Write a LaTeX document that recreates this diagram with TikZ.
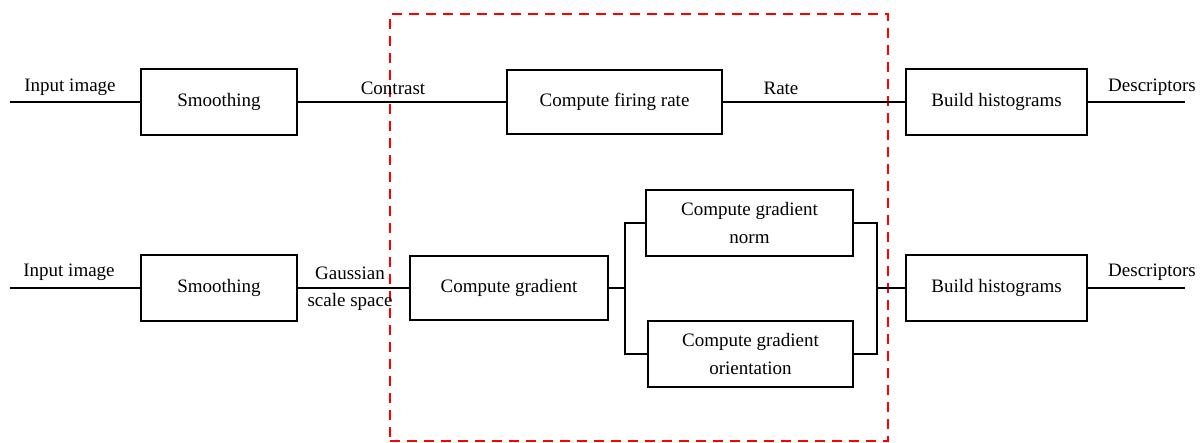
\documentclass[tikz,border=0pt]{standalone}
\usepackage{fontspec}
\setmainfont{Liberation Serif}
\begin{document}
\begin{tikzpicture}[x=1pt,y=-1pt,
  every node/.style={font=\fontsize{19}{28}\selectfont, inner sep=0pt},
  blk/.style={draw, line width=2.2pt, align=center},
  conn/.style={line width=2pt},
  lbl/.style={anchor=center},
  grpbox/.style={draw=red, line width=1.8pt, dash pattern=on 10pt off 7pt}]
\useasboundingbox (0,0) rectangle (1204,443);
% group box
\node[grpbox, minimum width=498pt, minimum height=427pt] (grp) at (639,227.5) {};
% top row
\coordinate (in1) at (10,102);
\coordinate (out1) at (1185,102);
\node[blk, minimum width=156pt, minimum height=66pt] (sm1) at (219,102) {Smoothing};
\node[blk, minimum width=215pt, minimum height=64pt] (cfr) at (614.5,102) {Compute firing rate};
\node[blk, minimum width=181pt, minimum height=66pt] (bh1) at (996.5,102) {Build histograms};
\draw[conn] (in1) -- (sm1.west);
\draw[conn] (sm1.east) -- (cfr.west);
\draw[conn] (cfr.east) -- (bh1.west);
\draw[conn] (bh1.east) -- (out1);
\node[lbl] (l1) at (70,87) {Input image};
\node[lbl] (l2) at (393,88) {Contrast};
\node[lbl] (l3) at (781,88) {Rate};
\node[lbl] (l4) at (1152,87) {Descriptors};
% bottom row
\coordinate (in2) at (10,288);
\coordinate (out2) at (1185,288);
\node[blk, minimum width=156pt, minimum height=66pt] (sm2) at (219,288) {Smoothing};
\node[blk, minimum width=198pt, minimum height=64pt] (cg) at (509,288) {Compute gradient};
\node[blk, minimum width=207pt, minimum height=66pt] (cgn) at (749.5,223) {Compute gradient\\norm};
\node[blk, minimum width=205pt, minimum height=66pt] (cgo) at (750.5,354) {Compute gradient\\orientation};
\node[blk, minimum width=181pt, minimum height=66pt] (bh2) at (996.5,288) {Build histograms};
\coordinate (split) at (625,288);
\coordinate (join) at (877,288);
\draw[conn] (in2) -- (sm2.west);
\draw[conn] (sm2.east) -- (cg.west);
\draw[conn] (cg.east) -- (split);
\draw[conn] (cgn.west) -| (split) |- (cgo.west);
\draw[conn] (cgn.east) -| (join) |- (cgo.east);
\draw[conn] (join) -- (bh2.west);
\draw[conn] (bh2.east) -- (out2);
\node[lbl] (l5) at (69,272) {Input image};
\node[lbl] (l6) at (350,273) {Gaussian};
\node[lbl] (l7) at (350,302) {scale space};
\node[lbl] (l8) at (1152,272) {Descriptors};
\end{tikzpicture}
\end{document}
